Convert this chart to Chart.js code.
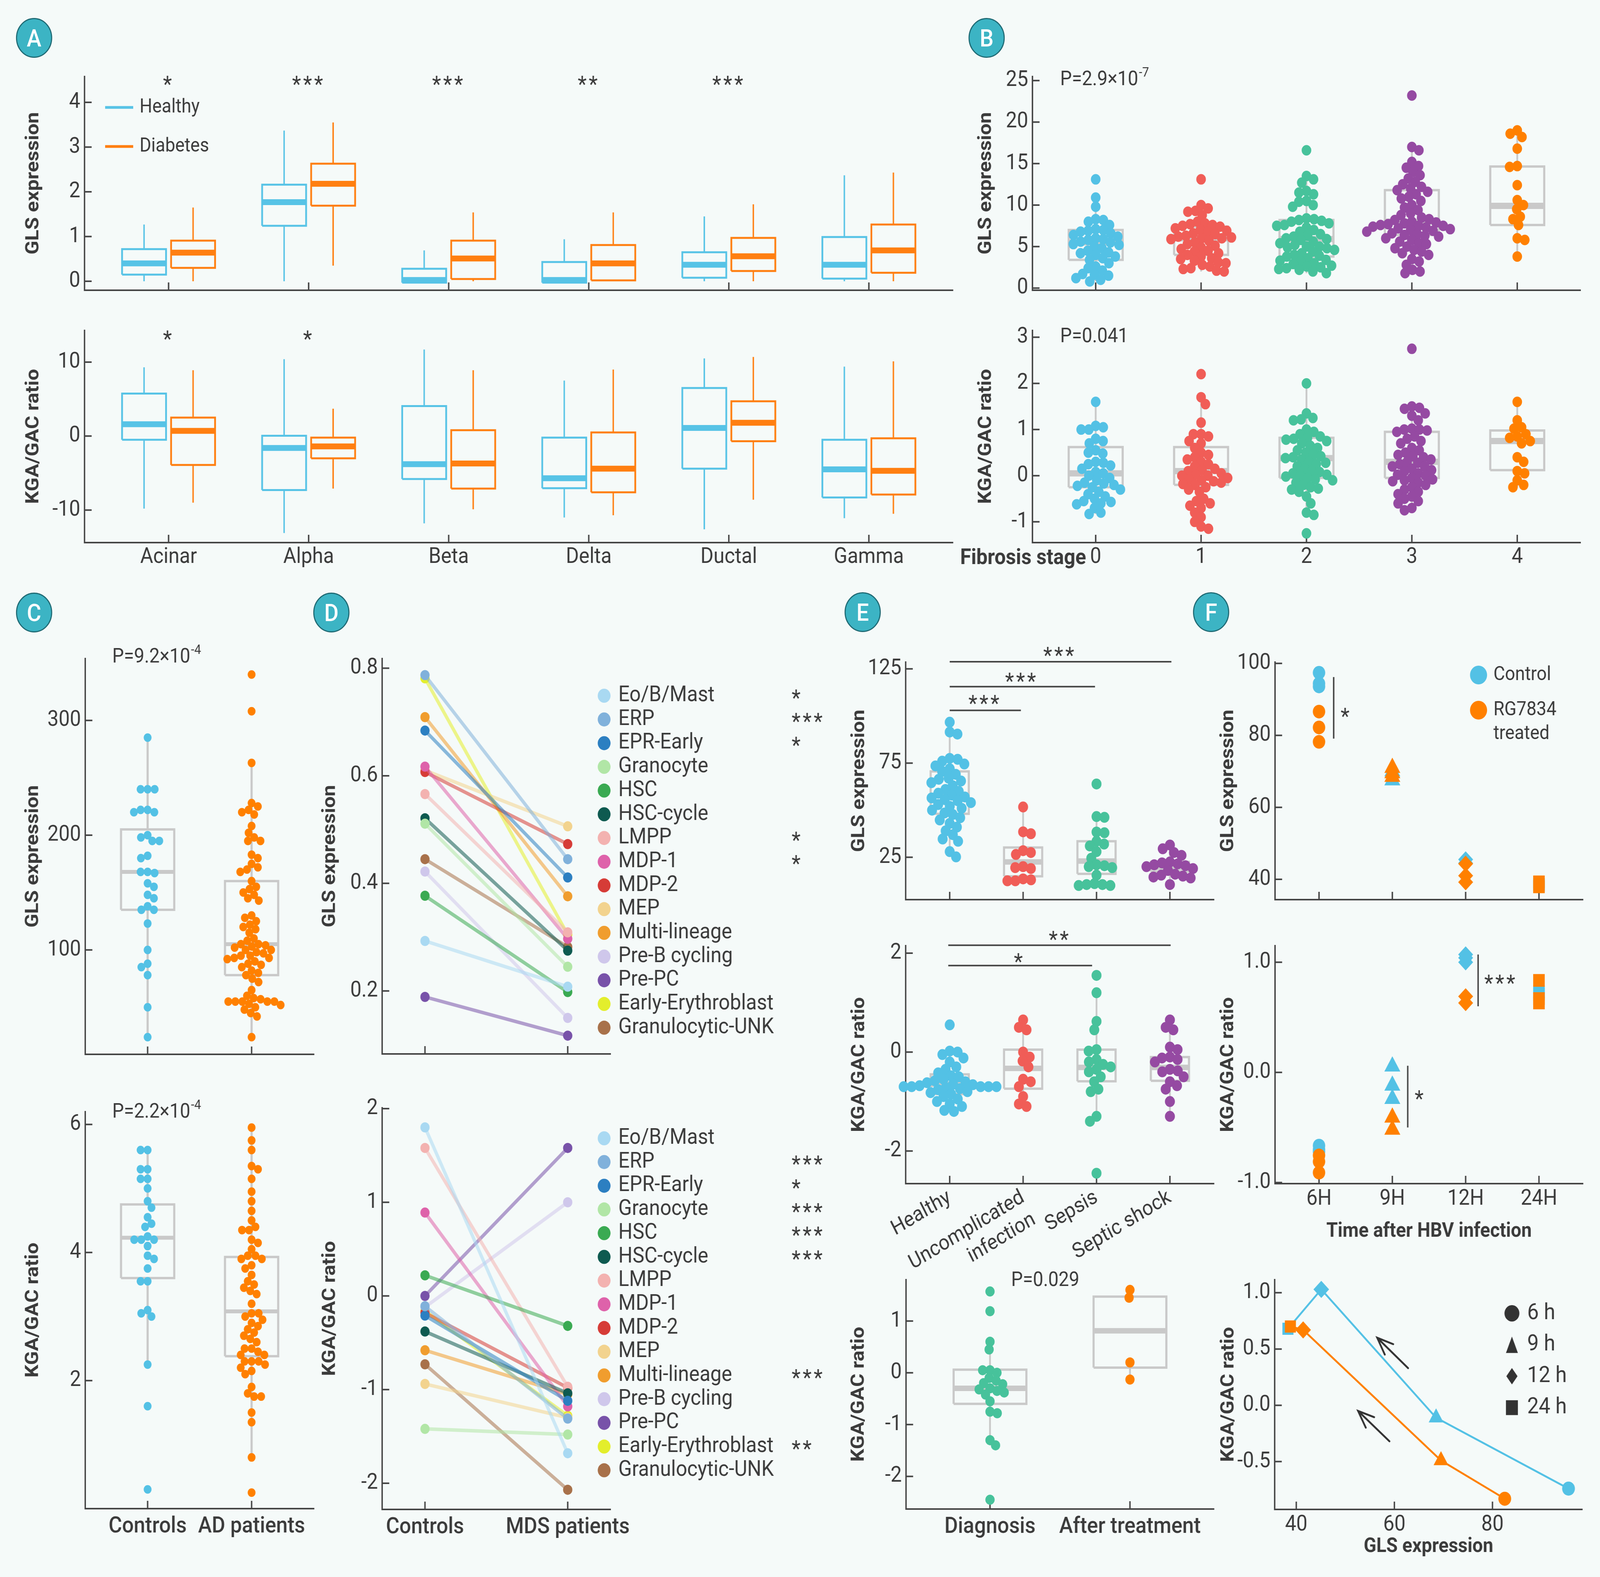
<!DOCTYPE html>
<html>
<head>
<meta charset="utf-8">
<script src="https://cdn.jsdelivr.net/npm/chart.js@4.4.1/dist/chart.umd.min.js"></script>
<style>
  html, body { margin: 0; padding: 0; background: #f5faf9; overflow: hidden; }
  #page { width: 4505px; height: 4037px; position: relative; overflow: hidden; font-family: Roboto, sans-serif; transform-origin: 0 0; }
  canvas { position: absolute; }
  .tag {
    position: absolute; width: 96px; height: 96px; border-radius: 50%;
    background: #3cb4c4; border: 3px solid #1f6a74; color: #fff;
    font: 500 62px Roboto, sans-serif; display: flex; align-items: center; justify-content: center;
  }
</style>
</head>
<body>
<div id="page">
<div class="tag" style="left:45px;top:46px">A</div>
<div class="tag" style="left:2727px;top:46px">B</div>
<div class="tag" style="left:45px;top:1517px">C</div>
<div class="tag" style="left:882px;top:1517px">D</div>
<div class="tag" style="left:2378px;top:1516px">E</div>
<div class="tag" style="left:3359px;top:1516px">F</div>
</div>
<script>
// ─── DATA ────────────────────────────────────────────────────────────────
// Box stats are [lower whisker, q1, median, q3, upper whisker]

// A – pancreatic cell types
const cellTypes = ['Acinar', 'Alpha', 'Beta', 'Delta', 'Ductal', 'Gamma'];
const glsHealthy = [[0, 0.15, 0.40, 0.72, 1.27], [0, 1.24, 1.77, 2.16, 3.37], [0, -0.03, 0.03, 0.28, 0.69],
                    [0, -0.03, 0.03, 0.43, 0.94], [0, 0.08, 0.37, 0.65, 1.45], [0, 0.06, 0.37, 0.99, 2.37]];
const glsDiabetes = [[0, 0.30, 0.64, 0.91, 1.65], [0.35, 1.69, 2.18, 2.63, 3.55], [0, 0.05, 0.51, 0.91, 1.54],
                     [0, 0.02, 0.40, 0.81, 1.54], [0, 0.23, 0.56, 0.97, 1.72], [0, 0.19, 0.69, 1.27, 2.43]];
const glsStarsA = ['*', '***', '***', '**', '***', ''];
const ratioHealthy = [[-9.8, -0.5, 1.6, 5.75, 9.3], [-13.1, -7.3, -1.6, 0.05, 10.4], [-11.8, -5.8, -3.8, 4.06, 11.7],
                      [-11.0, -7.05, -5.7, -0.2, 7.5], [-12.6, -4.4, 1.1, 6.5, 10.5], [-11.1, -8.3, -4.5, -0.5, 9.4]];
const ratioDiabetes = [[-9.0, -3.9, 0.7, 2.5, 8.9], [-7.1, -3.0, -1.4, -0.2, 3.7], [-9.9, -7.1, -3.7, 0.8, 8.9],
                       [-10.7, -7.6, -4.4, 0.5, 9.0], [-8.6, -0.7, 1.8, 4.7, 10.7], [-10.5, -7.9, -4.7, -0.3, 10.1]];
const ratioStarsA = ['*', '*', '', '', '', ''];

// B – fibrosis stages
const stageLabels = ['0', '1', '2', '3', '4'];
const glsStage0 = [13.1, 10.9, 9.8, 8.3, 8.2, 8.0, 7.6, 7.1, 7.0, 6.9, 6.8, 6.6, 6.4, 6.2, 6.0, 5.9, 5.8, 5.6, 5.5, 5.3,
                   5.2, 5.0, 4.8, 4.5, 4.3, 4.2, 4.0, 3.8, 3.6, 3.4, 3.0, 2.6, 2.4, 2.1, 1.7, 1.6, 1.5, 1.2, 1.0, 0.8];
const glsStage1 = [13.1, 10.0, 9.6, 9.3, 9.2, 8.8, 8.0, 7.8, 7.7, 7.6, 7.5, 7.4, 7.2, 7.0, 6.9, 6.8, 6.6, 6.5, 6.3, 6.2,
                   6.1, 6.0, 6.0, 5.9, 5.7, 5.5, 5.3, 5.1, 4.9, 4.7, 4.5, 4.4, 4.2, 4.0, 3.8, 3.6, 3.5, 3.3, 3.1, 3.0,
                   2.8, 2.6, 2.4, 2.3, 2.1, 2.0];
const glsStage2 = [16.6, 13.5, 13.1, 12.7, 11.7, 11.5, 11.3, 10.5, 10.4, 10.0, 9.8, 8.4, 8.3, 8.2, 8.1, 8.0, 7.8, 7.6,
                   7.5, 7.3, 7.0, 6.8, 6.5, 6.3, 6.2, 6.0, 5.9, 5.8, 5.6, 5.4, 5.2, 5.0, 5.0, 4.9, 4.8, 4.6, 4.4, 4.2,
                   4.0, 3.9, 3.8, 3.6, 3.4, 3.3, 3.2, 3.0, 2.9, 2.7, 2.6, 2.5, 2.4, 2.3, 2.2, 2.0, 1.8];
const glsStage3 = [23.2, 17.0, 16.6, 15.2, 14.7, 14.5, 14.0, 13.6, 13.2, 12.8, 12.5, 12.2, 12.0, 11.8, 11.6, 11.3, 11.0,
                   10.8, 10.5, 10.0, 9.7, 9.4, 9.0, 8.8, 8.5, 8.3, 8.2, 8.0, 7.9, 7.8, 7.7, 7.6, 7.5, 7.5, 7.4, 7.3,
                   7.2, 7.1, 7.0, 6.9, 6.8, 6.6, 6.5, 6.4, 6.3, 6.2, 6.0, 5.8, 5.6, 5.4, 5.3, 5.0, 4.8, 4.6, 4.4, 4.2,
                   4.0, 3.5, 3.2, 2.8, 2.2, 2.0, 1.8];
const glsStage4 = [19.0, 18.6, 18.2, 16.8, 14.7, 14.6, 12.4, 10.6, 10.0, 9.5, 8.6, 8.3, 7.6, 6.0, 5.8, 3.8];
const glsStageBoxes = [[0.8, 3.4, 5.5, 7.0, 10.9], [2.0, 4.0, 6.0, 7.4, 10.0], [1.8, 3.8, 5.9, 8.2, 13.5],
                       [1.8, 6.4, 8.0, 11.8, 17.0], [3.8, 7.6, 9.9, 14.65, 19.0]];
const ratioStage0 = [1.6, 1.08, 1.05, 1.0, 1.0, 0.8, 0.75, 0.7, 0.55, 0.5, 0.48, 0.3, 0.28, 0.25, 0.22, 0.15, 0.08, 0.05,
                     0.0, -0.05, -0.1, -0.15, -0.17, -0.2, -0.22, -0.25, -0.3, -0.35, -0.4, -0.45, -0.5, -0.55, -0.57,
                     -0.6, -0.62, -0.7, -0.8, -0.83];
const ratioStage1 = [2.2, 1.7, 1.55, 1.15, 0.9, 0.9, 0.85, 0.75, 0.7, 0.6, 0.5, 0.45, 0.4, 0.35, 0.3, 0.25, 0.2, 0.15,
                     0.12, 0.1, 0.05, 0.02, 0.0, 0.0, -0.05, -0.08, -0.1, -0.12, -0.15, -0.18, -0.2, -0.25, -0.3,
                     -0.35, -0.5, -0.55, -0.6, -0.65, -0.7, -0.8, -0.9, -1.0, -1.1, -1.15];
const ratioStage2 = [2.0, 1.35, 1.25, 1.22, 1.2, 1.0, 0.95, 0.9, 0.85, 0.82, 0.8, 0.78, 0.75, 0.7, 0.65, 0.6, 0.55, 0.5,
                     0.45, 0.42, 0.4, 0.38, 0.35, 0.3, 0.28, 0.25, 0.2, 0.15, 0.1, 0.08, 0.05, 0.02, 0.0, -0.02, -0.05,
                     -0.08, -0.1, -0.15, -0.2, -0.25, -0.28, -0.3, -0.35, -0.45, -0.6, -0.8, -0.85, -1.25];
const ratioStage3 = [2.75, 1.5, 1.47, 1.45, 1.35, 1.3, 1.2, 1.02, 1.0, 1.0, 0.98, 0.95, 0.85, 0.8, 0.75, 0.7, 0.6, 0.55,
                     0.5, 0.45, 0.42, 0.4, 0.35, 0.3, 0.28, 0.25, 0.2, 0.2, 0.15, 0.12, 0.1, 0.05, 0.02, 0.0, -0.05,
                     -0.08, -0.1, -0.12, -0.15, -0.2, -0.25, -0.3, -0.35, -0.4, -0.45, -0.5, -0.55, -0.6, -0.7, -0.75];
const ratioStage4 = [1.6, 1.2, 1.05, 1.02, 0.9, 0.85, 0.82, 0.75, 0.7, 0.4, 0.3, 0.1, 0.05, -0.1, -0.2, -0.25];
const ratioStageBoxes = [[-0.83, -0.25, 0.05, 0.62, 1.6], [-1.15, -0.2, 0.1, 0.62, 1.7], [-0.85, -0.05, 0.38, 0.82, 2.0],
                         [-0.75, -0.05, 0.3, 0.95, 1.5], [-0.25, 0.12, 0.75, 0.98, 1.6]];

// C – Alzheimer cohort
const cohortC = ['Controls', 'AD patients'];
const glsControlsC = [285, 240, 240, 240, 222, 222, 220, 220, 200, 198, 195, 195, 182, 180, 168, 168, 167, 158, 155,
                      148, 145, 138, 135, 135, 123, 100, 88, 85, 78, 50, 24];
const glsPatientsC = [340, 308, 263, 228, 225, 222, 220, 218, 208, 202, 198, 195, 195, 183, 180, 175, 172, 170, 168,
                      160, 155, 153, 150, 148, 145, 143, 130, 128, 125, 122, 120, 118, 115, 110, 108, 105, 105, 104,
                      103, 102, 100, 100, 98, 97, 95, 95, 93, 93, 92, 90, 88, 87, 85, 82, 80, 78, 75, 72, 65, 60, 58,
                      57, 55, 55, 55, 55, 55, 53, 52, 50, 48, 45, 42, 24];
const glsBoxesC = [[24, 135, 168, 205, 285], [24, 78, 105, 160, 263]];
const ratioControlsC = [5.6, 5.6, 5.3, 5.3, 5.15, 5.15, 5.0, 4.8, 4.7, 4.55, 4.45, 4.4, 4.2, 4.2, 4.2, 4.25, 4.1, 3.95,
                        3.9, 3.75, 3.55, 3.55, 3.1, 3.05, 3.0, 2.25, 1.6, 0.3];
const ratioPatientsC = [5.95, 5.75, 5.6, 5.35, 5.3, 5.15, 4.95, 4.8, 4.65, 4.5, 4.4, 4.35, 4.35, 4.2, 4.15, 4.05, 3.95,
                        3.95, 3.9, 3.9, 3.8, 3.75, 3.65, 3.55, 3.5, 3.45, 3.4, 3.35, 3.2, 3.05, 3.05, 3.0, 2.95, 2.9,
                        2.85, 2.8, 2.75, 2.7, 2.65, 2.6, 2.5, 2.5, 2.45, 2.4, 2.4, 2.3, 2.3, 2.3, 2.25, 2.2, 2.15, 2.1,
                        1.9, 1.8, 1.75, 1.75, 1.5, 1.35, 0.8, 0.25];
const ratioBoxesC = [[2.25, 3.6, 4.23, 4.75, 5.6], [0.8, 2.38, 3.08, 3.93, 5.95]];

// D – MDS cell states
const cohortD = ['Controls', 'MDS patients'];
const cellStates = ['Eo/B/Mast', 'ERP', 'EPR-Early', 'Granocyte', 'HSC', 'HSC-cycle', 'LMPP', 'MDP-1', 'MDP-2', 'MEP',
                    'Multi-lineage', 'Pre-B cycling', 'Pre-PC', 'Early-Erythroblast', 'Granulocytic-UNK'];
const stateColors = ['#a9d9f2', '#80b1db', '#2c7fc1', '#b1e6a6', '#3aaa52', '#0e5a50', '#f3b2b0', '#de62aa', '#d63c37',
                     '#f2d38e', '#f09d2e', '#cfc7eb', '#7852a9', '#e3ee2c', '#a8714a'];
const glsControlsD = [0.293, 0.787, 0.684, 0.511, 0.377, 0.521, 0.566, 0.617, 0.607, 0.610, 0.709, 0.422, 0.189, 0.781, 0.445];
const glsMDS = [0.208, 0.445, 0.411, 0.245, 0.198, 0.275, 0.309, 0.297, 0.473, 0.506, 0.376, 0.150, 0.117, 0.305, 0.282];
const glsStarsD = ['*', '***', '*', '', '', '', '*', '*', '', '', '', '', '', '', ''];
const ratioControlsD = [1.80, -0.11, -0.21, -1.42, 0.22, -0.38, 1.58, 0.89, -0.18, -0.94, -0.58, -0.12, 0.0, -0.16, -0.73];
const ratioMDS = [-1.68, -1.31, -1.12, -1.48, -0.32, -1.04, -0.97, -1.18, -0.98, -1.30, -1.05, 1.0, 1.58, -1.28, -2.07];
const ratioStarsD = ['', '***', '*', '***', '***', '***', '', '', '', '', '***', '', '', '**', ''];

// E – sepsis
const sepsisGroups = ['Healthy', ['Uncomplicated', 'infection'], 'Sepsis', 'Septic shock'];
const glsHealthyE = [96.7, 91.5, 90.4, 77.5, 77, 76, 74.5, 73.5, 72, 70.6, 69, 67, 66.4, 65.5, 64.6, 63, 61, 60, 59, 58,
                     57, 56.5, 55.6, 55, 54, 53, 52, 51, 50, 48.5, 47.7, 46, 44.8, 43, 41, 39, 37, 34.7, 33.5, 28, 25.2];
const glsUncompE = [51.7, 38.5, 37.5, 28.5, 27.5, 26.5, 20, 19.5, 19, 13.5, 13, 12.5, 12.5];
const glsSepsisE = [63.9, 46.6, 46.2, 38.4, 38, 33.5, 32, 31, 28, 24.5, 21, 20.5, 20, 19.5, 15.5, 11, 10.5, 10.5, 10, 10];
const glsShockE = [31.5, 29.5, 27.5, 26, 22.5, 22, 21.5, 21, 20.5, 20, 19, 18, 16, 15.5, 15, 14.5, 14, 10.5];
const glsBoxesE = [[27, 48.1, 57.8, 70.6, 91.5], [12.5, 14.9, 22.5, 30.2, 51.7], [10, 16.2, 23, 33.5, 46.6],
                   [10.5, 17.4, 19.6, 22.5, 31.5]];
const ratioHealthyE = [0.55, 0.02, 0.0, -0.05, -0.12, -0.2, -0.3, -0.35, -0.42, -0.48, -0.5, -0.55, -0.58, -0.6, -0.62,
                       -0.65, -0.66, -0.68, -0.7, -0.7, -0.7, -0.7, -0.7, -0.7, -0.72, -0.74, -0.76,
                       -0.8, -0.82, -0.85, -0.9, -0.95, -1.0, -1.05, -1.1, -1.18, -1.2];
const ratioUncompE = [0.65, 0.5, 0.45, 0.0, -0.1, -0.18, -0.3, -0.55, -0.6, -0.7, -0.9, -1.05, -1.1];
const ratioSepsisE = [1.55, 1.2, 0.62, 0.45, 0.05, 0.02, -0.15, -0.2, -0.25, -0.3, -0.35, -0.4, -0.5, -0.6, -0.75, -0.8,
                      -1.3, -1.4, -2.45];
const ratioShockE = [0.65, 0.5, 0.45, 0.1, 0.05, -0.1, -0.12, -0.15, -0.2, -0.35, -0.38, -0.4, -0.5, -0.6, -0.68, -0.75,
                     -1.0, -1.3];
const ratioBoxesE = [[-1.2, -0.85, -0.65, -0.45, 0.02], [-1.1, -0.74, -0.33, 0.05, 0.65], [-1.4, -0.59, -0.31, 0.05, 1.2],
                     [-1.3, -0.58, -0.31, -0.1, 0.65]];
// significance bars: [x from, x to, y, stars, star x, star y]
const glsSigE = [[0, 0.97, 103, '***', 0.48, 108], [0, 1.98, 115.6, '***', 0.98, 120], [0, 3.02, 128.8, '***', 1.5, 133.7]];
const ratioSigE = [[-0.02, 1.94, 1.75, '*', 0.95, 1.88], [-0.02, 3.01, 2.16, '**', 1.5, 2.33]];
const treatGroups = ['Diagnosis', 'After treatment'];
const ratioDiagnosis = [1.57, 1.19, 0.6, 0.45, 0.05, 0.05, 0.0, -0.1, -0.15, -0.2, -0.22, -0.3, -0.32, -0.35, -0.38,
                        -0.42, -0.55, -0.75, -0.78, -1.3, -1.4, -2.45];
const ratioAfter = [1.6, 1.45, 0.2, -0.13];
const treatBoxes = [[-1.4, -0.6, -0.3, 0.06, 0.6], [-0.13, 0.1, 0.81, 1.47, 1.6]];

// F – HBV infection time course
const timePoints = ['6H', '9H', '12H', '24H'];
const timeShapes = ['circle', 'triangle', 'rectRot', 'rect'];
const fGlsControl = [[97.4, 94.4, 93.6], [70, 67.5], [45.5, 44.5], [38.6, 38.2]];
const fGlsTreated = [[86.6, 82.2, 78.2], [71, 69.5, 68.5], [44.3, 41, 39.2], [39.3, 37.9]];
const fRatioControl = [[-0.665, -0.7, -0.72], [0.054, -0.12, -0.24], [1.07, 1.04, 1.0], [0.73, 0.71]];
const fRatioTreated = [[-0.754, -0.81, -0.91], [-0.41, -0.52], [0.69, 0.63], [0.835, 0.67, 0.63]];
// vertical significance bars: [x, y from, y to, stars, star x, star y]
const fGlsSig = [[0.2, 79.1, 96.2, '*', 0.37, 86]];
const fRatioSig = [[1.21, -0.50, 0.06, '*', 1.38, -0.215], [2.17, 0.60, 1.07, '***', 2.48, 0.835]];
// mean trajectories, ordered 24h, 12h, 9h, 6h
const trajShapes = ['rect', 'rectRot', 'triangle', 'circle'];
const trajGlsControl = [38.3, 45.1, 68.5, 95.5];
const trajRatioControl = [0.68, 1.03, -0.11, -0.74];
const trajGlsTreated = [38.8, 41.4, 69.5, 82.5];
const trajRatioTreated = [0.70, 0.67, -0.49, -0.83];
// arrows: [from x, from y, to x, to y]
const trajArrows = [[62.8, 0.33, 56.5, 0.60], [59.0, -0.32, 52.6, -0.05]];
const trajLegend = ['6 h', '9 h', '12 h', '24 h'];

// ─── STYLE ───────────────────────────────────────────────────────────────
const FONT = 'Roboto, "Open Sans", sans-serif';
const INK = '#3b3b3b';
const AXIS = '#454545';
const GRAY = '#c9c9c9';
const BLUE = '#53c1e5', RED = '#f05d57', GREEN = '#47c29b', PURPLE = '#954aa2', ORANGE = '#ff8000';
const A_BLUE = '#57c3e6', A_ORANGE = '#ff7f11';
const stageColors = [BLUE, RED, GREEN, PURPLE, ORANGE];
const PAGE = document.getElementById('page');

Chart.defaults.font.family = FONT;
Chart.defaults.color = INK;

// fit the 4505×4037 layout into whatever viewport we actually get
(function fitPage() {
  const vw = window.innerWidth || 4505, vh = window.innerHeight || 4037;
  const sx = vw / 4505, sy = vh / 4037;
  if (Math.abs(sx - 1) > 0.002 || Math.abs(sy - 1) > 0.002) PAGE.style.transform = 'scale(' + sx + ',' + sy + ')';
})();

// ─── HELPERS ─────────────────────────────────────────────────────────────
function txt(ctx, s, x, y, size, opt) {
  opt = opt || {};
  ctx.save();
  ctx.font = (opt.weight || 400) + ' ' + size + 'px ' + FONT;
  ctx.fillStyle = opt.color || INK;
  ctx.textAlign = opt.align || 'left';
  ctx.textBaseline = 'middle';
  if (opt.spacing) ctx.letterSpacing = opt.spacing + 'px';
  ctx.fillText(s, x, y);
  const w = ctx.measureText(s).width;
  ctx.restore();
  return w;
}

function star(ctx, s, x, y, size) {
  size = size || 58;
  txt(ctx, s, x, y + 0.2 * size, size, { align: 'center', spacing: 6 });
}

function pval(ctx, base, exp, x, y) {
  const w = txt(ctx, base, x, y, 52);
  if (exp) txt(ctx, exp, x + w + 2, y - 18, 34);
}

function marker(ctx, shape, x, y, r, color) {
  ctx.save();
  ctx.fillStyle = color;
  ctx.beginPath();
  if (shape === 'circle') ctx.arc(x, y, r, 0, Math.PI * 2);
  else if (shape === 'triangle') { ctx.moveTo(x, y - r); ctx.lineTo(x + r * 0.8, y + r); ctx.lineTo(x - r * 0.8, y + r); }
  else if (shape === 'rectRot') { ctx.moveTo(x, y - r); ctx.lineTo(x + r * 0.75, y); ctx.lineTo(x, y + r); ctx.lineTo(x - r * 0.75, y); }
  else ctx.rect(x - r * 0.8, y - r * 0.9, r * 1.6, r * 1.8);
  ctx.closePath();
  ctx.fill();
  ctx.restore();
}

// box plot as three line datasets: whiskers, box outline, median
function boxSets(xc, st, color, o) {
  const [mn, q1, md, q3, mx] = st, h = o.hw;
  const base = { showLine: true, borderColor: color, pointRadius: 0, order: o.order == null ? 1 : o.order };
  return [
    Object.assign({ data: [{ x: xc, y: q3 }, { x: xc, y: mx }, { x: xc, y: null }, { x: xc, y: q1 }, { x: xc, y: mn }],
                    borderWidth: o.wl, spanGaps: false }, base),
    Object.assign({ data: [{ x: xc - h, y: q1 }, { x: xc + h, y: q1 }, { x: xc + h, y: q3 }, { x: xc - h, y: q3 }, { x: xc - h, y: q1 }],
                    borderWidth: o.bl, borderJoinStyle: 'miter' }, base),
    Object.assign({ data: [{ x: xc - h, y: md }, { x: xc + h, y: md }], borderWidth: o.ml, borderCapStyle: 'butt' }, base)
  ];
}

// deterministic beeswarm layout (pixel space) -> data coordinates
function swarm(vals, xc, r, kx, ky, gap) {
  const d = 2 * r * gap, placed = [], out = new Array(vals.length);
  const idx = vals.map((v, i) => i).sort((a, b) => vals[b] - vals[a]);
  idx.forEach((i, n) => {
    const py = vals[i] * ky;
    const cands = [0];
    placed.forEach(p => {
      const dy = Math.abs(p.py - py);
      if (dy < d) { const dx = Math.sqrt(d * d - dy * dy); cands.push(p.px + dx, p.px - dx); }
    });
    const sgn = n % 2 ? 1 : -1;
    cands.sort((a, b) => Math.abs(a) - Math.abs(b) || sgn * (a - b));
    let px = 0;
    for (const c of cands) {
      if (placed.every(p => (p.px - c) ** 2 + (p.py - py) ** 2 >= d * d - 0.5)) { px = c; break; }
    }
    placed.push({ px, py });
    out[i] = { x: xc + px / kx, y: vals[i] };
  });
  return out;
}

function swarmSets(g, groups, colors, boxes, r, gap, bs) {
  const kx = (g.x1 - g.x0) / (g.xMax - g.xMin), ky = (g.y1 - g.y0) / (g.yMax - g.yMin);
  const sets = [];
  groups.forEach((vals, i) => {
    sets.push({ data: swarm(vals, i, r, kx, ky, gap), pointRadius: r, pointBackgroundColor: colors[i],
                pointBorderWidth: 0, order: 0 });
    sets.push(...boxSets(i, boxes[i], GRAY, bs));
  });
  return sets;
}

function sigLine(x1, y1, x2, y2) {
  return { data: [{ x: x1, y: y1 }, { x: x2, y: y2 }], showLine: true, borderColor: AXIS, borderWidth: 4,
           pointRadius: 0, order: 0 };
}

function tickPlugin(o) {
  return {
    id: 'inTicks',
    beforeDatasetsDraw(c) {
      const ctx = c.ctx, xs = c.scales.x, ys = c.scales.y, a = c.chartArea;
      ctx.save();
      ctx.strokeStyle = AXIS; ctx.lineWidth = 4; ctx.beginPath();
      o.xTicks.forEach(v => { const p = xs.getPixelForValue(v); ctx.moveTo(p, a.bottom); ctx.lineTo(p, a.bottom - 20); });
      o.yTicks.forEach(v => { const p = ys.getPixelForValue(v); ctx.moveTo(a.left, p); ctx.lineTo(a.left + 20, p); });
      ctx.stroke();
      ctx.restore();
    }
  };
}

function build(o) {
  const cv = document.createElement('canvas');
  const W = o.cr - o.cl, H = o.cb - o.ct;
  cv.width = W; cv.height = H;
  Object.assign(cv.style, { left: o.cl + 'px', top: o.ct + 'px', width: W + 'px', height: H + 'px' });
  PAGE.appendChild(cv);
  const TF = 52;
  const X = v => v - o.cl, Y = v => v - o.ct;
  o.datasets.forEach(d => { d.clip = false; });
  return new Chart(cv, {
    type: 'scatter',
    data: { datasets: o.datasets },
    options: {
      responsive: false, animation: false, devicePixelRatio: 1, events: [],
      layout: { autoPadding: false, padding: { left: 0, top: o.y0 - o.ct, right: o.cr - o.x1, bottom: 0 } },
      plugins: { legend: { display: false }, tooltip: { enabled: false } },
      elements: { line: { tension: 0 } },
      scales: {
        x: {
          type: 'linear', position: 'bottom', min: o.xMin, max: o.xMax,
          grid: { display: false, drawTicks: false },
          border: { display: true, color: AXIS, width: 4 },
          afterBuildTicks: s => { s.ticks = o.xTicks.map(v => ({ value: v })); },
          afterFit: s => { s.height = o.cb - o.y1; },
          ticks: {
            display: !!o.xLabel, autoSkip: false, padding: o.xPad == null ? 6 : o.xPad, color: INK,
            font: { size: o.xFs || 56, weight: o.xWeight || '400' },
            minRotation: o.xRot || 0, maxRotation: o.xRot || 0,
            callback: v => (o.xLabel ? o.xLabel(v) : '')
          },
          title: o.xTitle ? {
            display: true, text: o.xTitle[0], color: INK, font: { size: TF, weight: '700', lineHeight: 1.2 },
            padding: { top: 0, bottom: o.cb - o.xTitle[1] - 0.6 * TF }
          } : { display: false }
        },
        y: {
          type: 'linear', position: 'left', min: o.yMin, max: o.yMax,
          grid: { display: false, drawTicks: false },
          border: { display: true, color: AXIS, width: 4 },
          afterBuildTicks: s => { s.ticks = o.yTicks.map(v => ({ value: v })); },
          afterFit: s => { s.width = o.x0 - o.cl; },
          ticks: { padding: 12, color: INK, font: { size: 56, weight: '400' }, callback: o.yFmt || (v => String(v)) },
          title: {
            display: true, text: o.yTitle[0], color: INK, font: { size: TF, weight: '700', lineHeight: 1.2 },
            padding: { top: o.yTitle[1] - o.cl - 0.6 * TF, bottom: 0 }
          }
        }
      }
    },
    plugins: [tickPlugin(o), {
      id: 'extras',
      afterDatasetsDraw(c) { if (o.extra) o.extra(c.ctx, c.scales.x, c.scales.y, X, Y); }
    }]
  });
}

// ─── LAYOUT ──────────────────────────────────────────────────────────────
const G = {
  aTop: { x0: 238, y0: 194, x1: 2683, y1: 743, cl: 38, ct: 150, cr: 2700, cb: 800, xMin: -0.6, xMax: 5.6, yMin: -0.2, yMax: 4.58 },
  aBot: { x0: 238, y0: 840, x1: 2683, y1: 1389, cl: 38, ct: 800, cr: 2700, cb: 1500, xMin: -0.6, xMax: 5.6, yMin: -14.4, yMax: 14.3 },
  bTop: { x0: 2907, y0: 194, x1: 4450, y1: 743, cl: 2647, ct: 150, cr: 4480, cb: 800, xMin: -0.6, xMax: 4.6, yMin: -0.26, yMax: 25.5 },
  bBot: { x0: 2907, y0: 842, x1: 4450, y1: 1389, cl: 2647, ct: 800, cr: 4480, cb: 1500, xMin: -0.6, xMax: 4.6, yMin: -1.45, yMax: 3.15 },
  cTop: { x0: 240, y0: 1670, x1: 884, y1: 2699, cl: 40, ct: 1640, cr: 900, cb: 2760, xMin: -0.6, xMax: 1.6, yMin: 9, yMax: 354 },
  cBot: { x0: 240, y0: 2835, x1: 884, y1: 3862, cl: 40, ct: 2800, cr: 900, cb: 3990, xMin: -0.6, xMax: 1.6, yMin: 0, yMax: 6.2 },
  dTop: { x0: 1076, y0: 1671, x1: 1719, y1: 2698, cl: 876, ct: 1640, cr: 2350, cb: 2760, xMin: -0.3, xMax: 1.3, yMin: 0.083, yMax: 0.818 },
  dBot: { x0: 1076, y0: 2826, x1: 1719, y1: 3864, cl: 876, ct: 2790, cr: 2350, cb: 3990, xMin: -0.3, xMax: 1.3, yMin: -2.28, yMax: 2.01 },
  eTop: { x0: 2550, y0: 1695, x1: 3418, y1: 2303, cl: 2350, ct: 1620, cr: 3440, cb: 2350, xMin: -0.6, xMax: 3.6, yMin: 2.5, yMax: 128.6 },
  eBot: { x0: 2550, y0: 2421, x1: 3418, y1: 3030, cl: 2350, ct: 2370, cr: 3440, cb: 3250, xMin: -0.6, xMax: 3.6, yMin: -2.66, yMax: 2.15 },
  eSm:  { x0: 2551, y0: 3253, x1: 3418, y1: 3863, cl: 2350, ct: 3230, cr: 3440, cb: 3990, xMin: -0.6, xMax: 1.6, yMin: -2.63, yMax: 1.80 },
  fTop: { x0: 3590, y0: 1695, x1: 4457, y1: 2303, cl: 3390, ct: 1640, cr: 4490, cb: 2350, xMin: -0.6, xMax: 3.6, yMin: 34.35, yMax: 100.35 },
  fBot: { x0: 3590, y0: 2421, x1: 4457, y1: 3030, cl: 3390, ct: 2370, cr: 4490, cb: 3200, xMin: -0.6, xMax: 3.6, yMin: -1.01, yMax: 1.15 },
  fSm:  { x0: 3589, y0: 3253, x1: 4455, y1: 3864, cl: 3390, ct: 3230, cr: 4490, cb: 4010, xMin: 35.6, xMax: 98.3, yMin: -0.925, yMax: 1.117 }
};

// ─── PANEL A ─────────────────────────────────────────────────────────────
const boxA = { hw: 0.157, wl: 4, bl: 5, ml: 15 };
const idxA = cellTypes.map((c, i) => i);
function boxesA(h, d) {
  return idxA.flatMap(i => [...boxSets(i - 0.175, h[i], A_BLUE, boxA), ...boxSets(i + 0.175, d[i], A_ORANGE, boxA)]);
}
build(Object.assign({}, G.aTop, {
  xTicks: idxA, yTicks: [0, 1, 2, 3, 4], yTitle: ['GLS expression', 95],
  datasets: boxesA(glsHealthy, glsDiabetes),
  extra(ctx, xs, ys, X, Y) {
    glsStarsA.forEach((s, i) => star(ctx, s, xs.getPixelForValue(i), ys.getPixelForValue(4.46)));
    [['Healthy', A_BLUE, 275], ['Diabetes', A_ORANGE, 375]].forEach(([t, c, yy]) => {
      ctx.save(); ctx.strokeStyle = c; ctx.lineWidth = 7; ctx.beginPath();
      ctx.moveTo(X(296), Y(yy)); ctx.lineTo(X(375), Y(yy)); ctx.stroke(); ctx.restore();
      txt(ctx, t, X(393), Y(yy), 50);
    });
  }
}));
build(Object.assign({}, G.aBot, {
  xTicks: idxA, yTicks: [-10, 0, 10], yTitle: ['KGA/GAC ratio', 95],
  xLabel: v => cellTypes[v], xPad: 4,
  datasets: boxesA(ratioHealthy, ratioDiabetes),
  extra(ctx, xs, ys) {
    ratioStarsA.forEach((s, i) => star(ctx, s, xs.getPixelForValue(i), ys.getPixelForValue(13.5)));
  }
}));

// ─── PANEL B ─────────────────────────────────────────────────────────────
const boxGray = { hw: 0.256, wl: 5, bl: 6, ml: 16, order: 1 };
build(Object.assign({}, G.bTop, {
  xTicks: [0, 1, 2, 3, 4], yTicks: [0, 5, 10, 15, 20, 25], yTitle: ['GLS expression', 2777],
  datasets: swarmSets(G.bTop, [glsStage0, glsStage1, glsStage2, glsStage3, glsStage4], stageColors, glsStageBoxes, 13.5, 0.8, boxGray),
  extra(ctx, xs, ys, X, Y) { pval(ctx, 'P=2.9×10', '-7', X(2985), Y(205)); }
}));
build(Object.assign({}, G.bBot, {
  xTicks: [0, 1, 2, 3, 4], yTicks: [-1, 0, 1, 2, 3], yTitle: ['KGA/GAC ratio', 2777],
  xLabel: v => stageLabels[v], xPad: 4,
  datasets: swarmSets(G.bBot, [ratioStage0, ratioStage1, ratioStage2, ratioStage3, ratioStage4], stageColors, ratioStageBoxes, 13.5, 0.8, boxGray),
  extra(ctx, xs, ys, X, Y) {
    pval(ctx, 'P=0.041', '', X(2985), Y(863));
    txt(ctx, 'Fibrosis stage', X(3058), Y(1430), 56, { weight: 700, align: 'right' });
  }
}));

// ─── PANEL C ─────────────────────────────────────────────────────────────
const boxC = { hw: 0.256, wl: 6, bl: 6, ml: 10, order: 1 };
build(Object.assign({}, G.cTop, {
  xTicks: [0, 1], yTicks: [100, 200, 300], yTitle: ['GLS expression', 94],
  datasets: swarmSets(G.cTop, [glsControlsC, glsPatientsC], [BLUE, ORANGE], glsBoxesC, 11, 0.9, boxC),
  extra(ctx, xs, ys, X, Y) { pval(ctx, 'P=9.2×10', '-4', X(316), Y(1683)); }
}));
build(Object.assign({}, G.cBot, {
  xTicks: [0, 1], yTicks: [2, 4, 6], yTitle: ['KGA/GAC ratio', 94],
  xLabel: v => cohortC[v], xWeight: '500', xFs: 58, xPad: 12,
  datasets: swarmSets(G.cBot, [ratioControlsC, ratioPatientsC], [BLUE, ORANGE], ratioBoxesC, 11, 0.9, boxC),
  extra(ctx, xs, ys, X, Y) { pval(ctx, 'P=2.2×10', '-4', X(316), Y(2848)); }
}));

// ─── PANEL D ─────────────────────────────────────────────────────────────
function hexA(h, a) {
  const n = parseInt(h.slice(1), 16);
  return 'rgba(' + (n >> 16) + ',' + ((n >> 8) & 255) + ',' + (n & 255) + ',' + a + ')';
}
function pairSets(ctrl, mds) {
  return cellStates.map((s, i) => ({
    data: [{ x: 0, y: ctrl[i] }, { x: 1, y: mds[i] }], showLine: true,
    borderColor: hexA(stateColors[i], 0.55), borderWidth: 9,
    pointRadius: 13, pointBackgroundColor: stateColors[i], pointBorderWidth: 0
  }));
}
function legendD(ctx, X, Y, top, stars) {
  cellStates.forEach((s, i) => {
    const yy = Y(top + i * 60.7);
    marker(ctx, 'circle', X(1701), yy, 18, stateColors[i]);
    txt(ctx, s, X(1741), yy, 56);
    if (stars[i]) txt(ctx, stars[i], X(2229), yy + 10, 58, { spacing: 6 });
  });
}
build(Object.assign({}, G.dTop, {
  xTicks: [0, 1], yTicks: [0.2, 0.4, 0.6, 0.8], yTitle: ['GLS expression', 930], yFmt: v => v.toFixed(1),
  datasets: pairSets(glsControlsD, glsMDS),
  extra(ctx, xs, ys, X, Y) { legendD(ctx, X, Y, 1781, glsStarsD); }
}));
build(Object.assign({}, G.dBot, {
  xTicks: [0, 1], yTicks: [-2, -1, 0, 1, 2], yTitle: ['KGA/GAC ratio', 930],
  xLabel: v => cohortD[v], xWeight: '500', xFs: 58, xPad: 12,
  datasets: pairSets(ratioControlsD, ratioMDS),
  extra(ctx, xs, ys, X, Y) { legendD(ctx, X, Y, 2914, ratioStarsD); }
}));

// ─── PANEL E ─────────────────────────────────────────────────────────────
const sepsisColors = [BLUE, RED, GREEN, PURPLE];
const boxE = { hw: 0.26, wl: 5, bl: 6, ml: 14, order: 1 };
build(Object.assign({}, G.eTop, {
  xTicks: [0, 1, 2, 3], yTicks: [25, 75, 125], yTitle: ['GLS expression', 2420],
  datasets: swarmSets(G.eTop, [glsHealthyE, glsUncompE, glsSepsisE, glsShockE], sepsisColors, glsBoxesE, 14, 0.8, boxE)
    .concat(glsSigE.map(s => sigLine(s[0], s[2], s[1], s[2]))),
  extra(ctx, xs, ys) {
    glsSigE.forEach(s => star(ctx, s[3], xs.getPixelForValue(s[4]), ys.getPixelForValue(s[5])));
  }
}));
build(Object.assign({}, G.eBot, {
  xTicks: [0, 1, 2, 3], yTicks: [-2, 0, 2], yTitle: ['KGA/GAC ratio', 2420],
  xLabel: v => sepsisGroups[v], xRot: 29, xPad: 4, xFs: 54,
  datasets: swarmSets(G.eBot, [ratioHealthyE, ratioUncompE, ratioSepsisE, ratioShockE], sepsisColors, ratioBoxesE, 14, 0.8, boxE)
    .concat(ratioSigE.map(s => sigLine(s[0], s[2], s[1], s[2]))),
  extra(ctx, xs, ys) {
    ratioSigE.forEach(s => star(ctx, s[3], xs.getPixelForValue(s[4]), ys.getPixelForValue(s[5])));
  }
}));
build(Object.assign({}, G.eSm, {
  xTicks: [0, 1], yTicks: [-2, -1, 0, 1], yTitle: ['KGA/GAC ratio', 2419],
  xLabel: v => treatGroups[v], xWeight: '500', xFs: 58, xPad: 12,
  datasets: swarmSets(G.eSm, [ratioDiagnosis, ratioAfter], [GREEN, ORANGE], treatBoxes, 13, 0.8, boxE),
  extra(ctx, xs, ys, X, Y) { pval(ctx, 'P=0.029', '', X(2847), Y(3279)); }
}));

// ─── PANEL F ─────────────────────────────────────────────────────────────
const fRadius = [17.5, 26, 21, 23];
function timeSets(ctrl, trt) {
  const sets = [];
  timePoints.forEach((t, i) => {
    sets.push({ data: trt[i].map(v => ({ x: i, y: v })), pointStyle: timeShapes[i], pointRadius: fRadius[i],
                pointBackgroundColor: ORANGE, pointBorderWidth: 0, order: 0 });
    sets.push({ data: ctrl[i].map(v => ({ x: i, y: v })), pointStyle: timeShapes[i], pointRadius: fRadius[i],
                pointBackgroundColor: BLUE, pointBorderWidth: 0, order: 1 });
  });
  return sets;
}
build(Object.assign({}, G.fTop, {
  xTicks: [0, 1, 2, 3], yTicks: [40, 60, 80, 100], yTitle: ['GLS expression', 3459],
  datasets: timeSets(fGlsControl, fGlsTreated).concat(fGlsSig.map(s => sigLine(s[0], s[1], s[0], s[2]))),
  extra(ctx, xs, ys, X, Y) {
    fGlsSig.forEach(s => star(ctx, s[3], xs.getPixelForValue(s[4]), ys.getPixelForValue(s[5])));
    marker(ctx, 'circle', X(4163), Y(1728), 24, BLUE);
    marker(ctx, 'circle', X(4163), Y(1818), 24, ORANGE);
    txt(ctx, 'Control', X(4205), Y(1728), 50);
    txt(ctx, 'RG7834', X(4205), Y(1818), 50);
    txt(ctx, 'treated', X(4205), Y(1879), 50);
  }
}));
build(Object.assign({}, G.fBot, {
  xTicks: [0, 1, 2, 3], yTicks: [-1, 0, 1], yTitle: ['KGA/GAC ratio', 3459], yFmt: v => v.toFixed(1),
  xLabel: v => timePoints[v], xPad: 6, xTitle: ['Time after HBV infection', 3153],
  datasets: timeSets(fRatioControl, fRatioTreated).concat(fRatioSig.map(s => sigLine(s[0], s[1], s[0], s[2]))),
  extra(ctx, xs, ys) {
    fRatioSig.forEach(s => star(ctx, s[3], xs.getPixelForValue(s[4]), ys.getPixelForValue(s[5])));
  }
}));
build(Object.assign({}, G.fSm, {
  xTicks: [40, 60, 80], yTicks: [-0.5, 0, 0.5, 1], yTitle: ['KGA/GAC ratio', 3460], yFmt: v => v.toFixed(1),
  xLabel: v => String(v), xPad: 6, xTitle: ['GLS expression', 3960],
  datasets: [
    { data: trajGlsTreated.map((g, i) => ({ x: g, y: trajRatioTreated[i] })), showLine: true, borderColor: ORANGE,
      borderWidth: 5, pointStyle: trajShapes, pointRadius: [22, 22, 24, 18], pointBackgroundColor: ORANGE, pointBorderWidth: 0 },
    { data: trajGlsControl.map((g, i) => ({ x: g, y: trajRatioControl[i] })), showLine: true, borderColor: BLUE,
      borderWidth: 5, pointStyle: trajShapes, pointRadius: [22, 22, 24, 18], pointBackgroundColor: BLUE, pointBorderWidth: 0 }
  ],
  extra(ctx, xs, ys, X, Y) {
    ctx.save();
    ctx.strokeStyle = '#333'; ctx.lineWidth = 5; ctx.lineCap = 'round';
    trajArrows.forEach(a => {
      const x1 = xs.getPixelForValue(a[0]), y1 = ys.getPixelForValue(a[1]);
      const x2 = xs.getPixelForValue(a[2]), y2 = ys.getPixelForValue(a[3]);
      const ang = Math.atan2(y2 - y1, x2 - x1), L = 48, sp = 0.38;
      ctx.beginPath();
      ctx.moveTo(x1, y1); ctx.lineTo(x2, y2);
      ctx.moveTo(x2 - L * Math.cos(ang - sp), y2 - L * Math.sin(ang - sp)); ctx.lineTo(x2, y2);
      ctx.lineTo(x2 - L * Math.cos(ang + sp), y2 - L * Math.sin(ang + sp));
      ctx.stroke();
    });
    ctx.restore();
    trajLegend.forEach((t, i) => {
      const yy = Y(3362 + i * 80.5);
      marker(ctx, timeShapes[i], X(4257), yy, 21, '#333');
      txt(ctx, t, X(4300), yy, 58);
    });
  }
}));
</script>
</body>
</html>
